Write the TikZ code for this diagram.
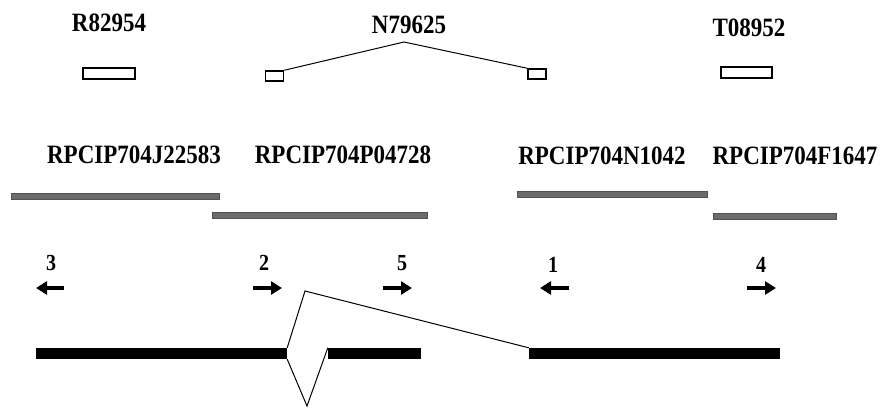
\documentclass[tikz,border=0pt]{standalone}
\usepackage{fontspec}
\setmainfont{Liberation Serif}
\usetikzlibrary{arrows.meta}
\newcommand\tallbox[1]{\scalebox{1}[1.15]{#1}}
\begin{document}
\begin{tikzpicture}[x=1pt,y=-1pt,
  lab/.style={font=\fontsize{23}{25}\selectfont\bfseries, inner sep=0, anchor=base},
  num/.style={font=\fontsize{20}{22}\selectfont\bfseries, inner sep=0, anchor=base},
  est/.style={draw, line width=1.5pt, rectangle, inner sep=0, minimum height=10pt},
  clone/.style={fill=black!58, draw=black!68, line width=0.4pt, rectangle, inner sep=0, minimum height=6pt},
  exon/.style={fill=black, rectangle, inner sep=0, minimum height=11pt},
  dirarrow/.style={line width=3.2pt, -{Triangle[length=11pt,width=13pt]}},
  link/.style={line width=1pt}]
\useasboundingbox (0,0) rectangle (880,408);
% top labels
\node[lab] (lR) at (109,31) {\tallbox{R82954}};
\node[lab] (lN) at (409,33) {\tallbox{N79625}};
\node[lab] (lT) at (749,36) {\tallbox{T08952}};
% EST boxes
\node[est, minimum width=52pt, minimum height=11pt] (eR) at (109,73.5) {};
\node[est, minimum width=18pt] (eN1) at (274.5,76) {};
\node[est, minimum width=18pt] (eN2) at (537,74) {};
\node[est, minimum width=51pt, minimum height=11pt] (eT) at (746.5,72.5) {};
\coordinate (apexN) at (404,42);
\draw[link] (eN1.north east) -- (apexN) -- (eN2.north west);
% clone labels
\node[lab] (lJ) at (134,163) {\tallbox{RPCIP704J22583}};
\node[lab] (lP) at (343,163) {\tallbox{RPCIP704P04728}};
\node[lab] (lN1) at (602,164) {\tallbox{RPCIP704N1042}};
\node[lab] (lF) at (795,164) {\tallbox{RPCIP704F1647}};
% clone bars
\node[clone, minimum width=208pt] (cJ) at (115,196) {};
\node[clone, minimum width=215pt] (cP) at (319.5,215) {};
\node[clone, minimum width=190pt] (cN) at (612,194.5) {};
\node[clone, minimum width=123pt] (cF) at (774.5,216) {};
% primer numbers
\node[num] (n3) at (51,270) {\tallbox{3}};
\node[num] (n2) at (264,270) {\tallbox{2}};
\node[num] (n5) at (402,270) {\tallbox{5}};
\node[num] (n1) at (553,272) {\tallbox{1}};
\node[num] (n4) at (761,272) {\tallbox{4}};
% primer arrows
\coordinate (a3s) at (64,288); \coordinate (a3e) at (36,288);
\coordinate (a2s) at (253,288); \coordinate (a2e) at (282,288);
\coordinate (a5s) at (383,288); \coordinate (a5e) at (412,288);
\coordinate (a1s) at (569,288); \coordinate (a1e) at (540,288);
\coordinate (a4s) at (747,288); \coordinate (a4e) at (776,288);
\draw[dirarrow] (a3s) -- (a3e);
\draw[dirarrow] (a2s) -- (a2e);
\draw[dirarrow] (a5s) -- (a5e);
\draw[dirarrow] (a1s) -- (a1e);
\draw[dirarrow] (a4s) -- (a4e);
% exons
\node[exon, minimum width=251pt] (xA) at (161.5,353.5) {};
\node[exon, minimum width=93pt] (xB) at (374.5,353.5) {};
\node[exon, minimum width=251pt] (xC) at (654.5,353.5) {};
% splice lines
\coordinate (apexUp) at (305,291);
\coordinate (apexDown) at (307,406);
\draw[link] (xA.north east) -- (apexUp) -- (xC.north west);
\draw[link] (xA.south east) -- (apexDown) -- (xB.north west);
\end{tikzpicture}
\end{document}
